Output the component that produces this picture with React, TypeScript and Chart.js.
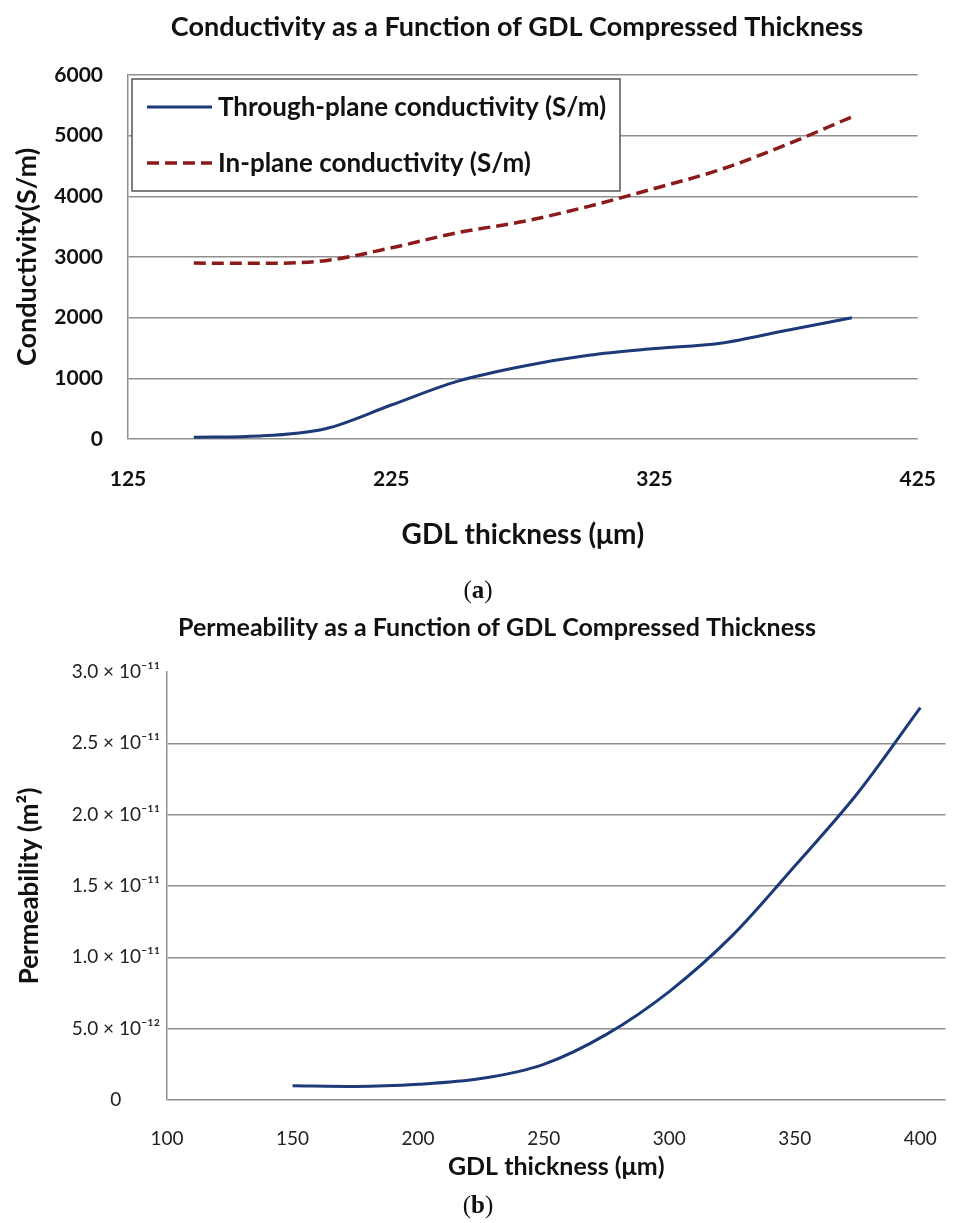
import React, { useEffect, useRef } from "react";
import { Chart, registerables } from "chart.js";

Chart.register(...registerables);

// ---------- Data: figure (a) ----------
const thicknessA = [150, 175, 200, 225, 250, 275, 300, 325, 350, 375, 400];
const throughPlane = [30, 50, 170, 560, 950, 1200, 1380, 1490, 1580, 1790, 2000];
const inPlane = [2900, 2895, 2940, 3150, 3400, 3585, 3835, 4130, 4440, 4850, 5310];
const seriesNamesA = ["Through-plane conductivity (S/m)", "In-plane conductivity (S/m)"];

// ---------- Data: figure (b) ----------
const thicknessB = [150, 175, 200, 225, 250, 275, 300, 325, 350, 375, 400];
const permeability = [1.0e-12, 0.95e-12, 1.1e-12, 1.5e-12, 2.5e-12, 4.6e-12, 7.6e-12, 1.15e-11, 1.64e-11, 2.15e-11, 2.75e-11];
const permTickLabels = ["0", "5.0 × 10⁻¹²", "1.0 × 10⁻¹¹", "1.5 × 10⁻¹¹", "2.0 × 10⁻¹¹", "2.5 × 10⁻¹¹", "3.0 × 10⁻¹¹"];

const NAVY = "#1c3a78";
const DARKRED = "#8b1a1a";
const GRID = "#8f8f8f";
const FONT = "Lato, 'Open Sans', sans-serif";

const titlePlugin = {
  id: "figTitle",
  afterDraw(chart: any, _args: any, opts: any) {
    if (!opts || !opts.text) return;
    const ctx = chart.ctx;
    ctx.save();
    ctx.font = opts.font;
    ctx.fillStyle = "#111";
    ctx.textAlign = "center";
    ctx.textBaseline = "middle";
    ctx.fillText(opts.text, opts.x, opts.y);
    ctx.restore();
  },
};

const boxLegendPlugin = {
  id: "boxLegend",
  afterDatasetsDraw(chart: any, _args: any, opts: any) {
    if (!opts || !opts.show) return;
    const ctx = chart.ctx;
    const ca = chart.chartArea;
    const x0 = ca.left + opts.dx;
    const y0 = ca.top + opts.dy;
    ctx.save();
    ctx.fillStyle = "#fff";
    ctx.fillRect(x0, y0, opts.w, opts.h);
    ctx.strokeStyle = "#555";
    ctx.lineWidth = 1.5;
    ctx.strokeRect(x0, y0, opts.w, opts.h);
    ctx.font = opts.font;
    ctx.textBaseline = "middle";
    ctx.textAlign = "left";
    chart.data.datasets.forEach((ds: any, i: number) => {
      const cy = y0 + opts.rowY[i];
      ctx.beginPath();
      ctx.strokeStyle = ds.borderColor;
      ctx.lineWidth = ds.borderWidth;
      ctx.setLineDash(ds.borderDash || []);
      ctx.moveTo(x0 + 15, cy);
      ctx.lineTo(x0 + 80, cy);
      ctx.stroke();
      ctx.setLineDash([]);
      ctx.fillStyle = "#111";
      ctx.fillText(ds.label, x0 + 86, cy + 1);
    });
    ctx.restore();
  },
};

function ChartA() {
  const ref = useRef<HTMLCanvasElement>(null);
  useEffect(() => {
    const chart = new Chart(ref.current!, {
      type: "line",
      data: {
        datasets: [
          {
            label: seriesNamesA[0],
            data: thicknessA.map((x, i) => ({ x, y: throughPlane[i] })),
            borderColor: NAVY,
            borderWidth: 3,
            pointRadius: 0,
            cubicInterpolationMode: "monotone",
            fill: false,
          },
          {
            label: seriesNamesA[1],
            data: thicknessA.map((x, i) => ({ x, y: inPlane[i] })),
            borderColor: DARKRED,
            borderWidth: 3.5,
            borderDash: [12, 6],
            pointRadius: 0,
            cubicInterpolationMode: "monotone",
            fill: false,
          },
        ],
      },
      options: {
        animation: false,
        responsive: false,
        layout: { padding: { top: 75, left: 0, right: 29, bottom: 0 } },
        plugins: {
          legend: { display: false },
          tooltip: { enabled: false },
          figTitle: { text: "Conductivity as a Function of GDL Compressed Thickness", x: 517, y: 27, font: `bold 27px ${FONT}` },
          boxLegend: { show: true, dx: 4, dy: 4, w: 488, h: 112, rowY: [28, 84], font: `bold 26px ${FONT}` },
        } as any,
        scales: {
          x: {
            type: "linear",
            min: 125,
            max: 425,
            ticks: { stepSize: 100, padding: 20, color: "#111", font: { family: FONT, size: 21, weight: "bold" } },
            grid: { display: false },
            border: { display: false },
            title: {
              display: true,
              text: "GDL thickness (μm)",
              color: "#111",
              font: { family: FONT, size: 28, weight: "bold" },
              padding: { top: 0, bottom: 48 },
            },
            afterFit(scale: any) {
              scale.height = 161;
            },
          },
          y: {
            min: 0,
            max: 6000,
            ticks: {
              stepSize: 1000,
              padding: 25,
              color: "#111",
              font: { family: FONT, size: 21, weight: "bold" },
              callback: (v: any) => String(v),
            },
            grid: { color: GRID, lineWidth: 1.5, drawTicks: false },
            border: { display: true, color: GRID, width: 1.5 },
            title: {
              display: true,
              text: "Conductivity(S/m)",
              color: "#111",
              font: { family: FONT, size: 27, weight: "bold" },
              padding: { top: 11, bottom: 0 },
            },
            afterFit(scale: any) {
              scale.width = 128;
            },
          },
        },
      } as any,
      plugins: [titlePlugin, boxLegendPlugin],
    });
    return () => chart.destroy();
  }, []);
  return <canvas ref={ref} width={956} height={600} style={{ position: "absolute", left: 0, top: 0, width: 956, height: 600 }} />;
}

function ChartB() {
  const ref = useRef<HTMLCanvasElement>(null);
  useEffect(() => {
    const chart = new Chart(ref.current!, {
      type: "line",
      data: {
        datasets: [
          {
            label: "Permeability (m²)",
            data: thicknessB.map((x, i) => ({ x, y: permeability[i] })),
            borderColor: NAVY,
            borderWidth: 3,
            pointRadius: 0,
            cubicInterpolationMode: "monotone",
            fill: false,
          },
        ],
      },
      options: {
        animation: false,
        responsive: false,
        layout: { padding: { top: 72, left: 0, right: 4, bottom: 0 } },
        plugins: {
          legend: { display: false },
          tooltip: { enabled: false },
          figTitle: { text: "Permeability as a Function of GDL Compressed Thickness", x: 497, y: 28, font: `bold 25px ${FONT}` },
        } as any,
        scales: {
          x: {
            type: "linear",
            min: 100,
            max: 410,
            ticks: { stepSize: 50, includeBounds: false, padding: 19, color: "#222", font: { family: FONT, size: 19 } },
            grid: { display: false },
            border: { display: false },
            title: {
              display: true,
              text: "GDL thickness (μm)",
              color: "#111",
              font: { family: FONT, size: 25, weight: "bold" },
              padding: { top: 0, bottom: 41 },
            },
            afterFit(scale: any) {
              scale.height = 123;
            },
          },
          y: {
            min: 0,
            max: 3e-11,
            ticks: {
              stepSize: 0.5e-11,
              padding: 7,
              crossAlign: "center",
              color: "#222",
              font: { family: FONT, size: 19 },
              callback: (_v: any, i: number) => permTickLabels[i],
            },
            grid: {
              color: (c: any) => (c.index === permTickLabels.length - 1 ? "rgba(0,0,0,0)" : GRID),
              lineWidth: 1.5,
              drawTicks: false,
            },
            border: { display: true, color: GRID, width: 1.5 },
            title: {
              display: true,
              text: "Permeability (m²)",
              color: "#111",
              font: { family: FONT, size: 26, weight: "bold" },
              padding: { top: 14, bottom: 0 },
            },
            afterFit(scale: any) {
              scale.width = 167;
            },
          },
        },
      } as any,
      plugins: [titlePlugin],
    });
    return () => chart.destroy();
  }, []);
  return <canvas ref={ref} width={956} height={623} style={{ position: "absolute", left: 0, top: 600, width: 956, height: 623 }} />;
}

const capStyle: React.CSSProperties = {
  position: "absolute",
  width: 956,
  left: 0,
  textAlign: "center",
  fontFamily: "'Liberation Serif', 'DejaVu Serif', serif",
  fontSize: 25,
  color: "#111",
  lineHeight: "28px",
};

export default function App() {
  return (
    <div style={{ position: "absolute", left: 0, top: 0, width: 956, height: 1223, background: "#fff", overflow: "hidden" }}>
      <ChartA />
      <ChartB />
      <div style={{ ...capStyle, top: 576, left: 0, width: 956 }}>
        (<b>a</b>)
      </div>
      <div style={{ ...capStyle, top: 1191, left: 0, width: 956 }}>
        (<b>b</b>)
      </div>
    </div>
  );
}
